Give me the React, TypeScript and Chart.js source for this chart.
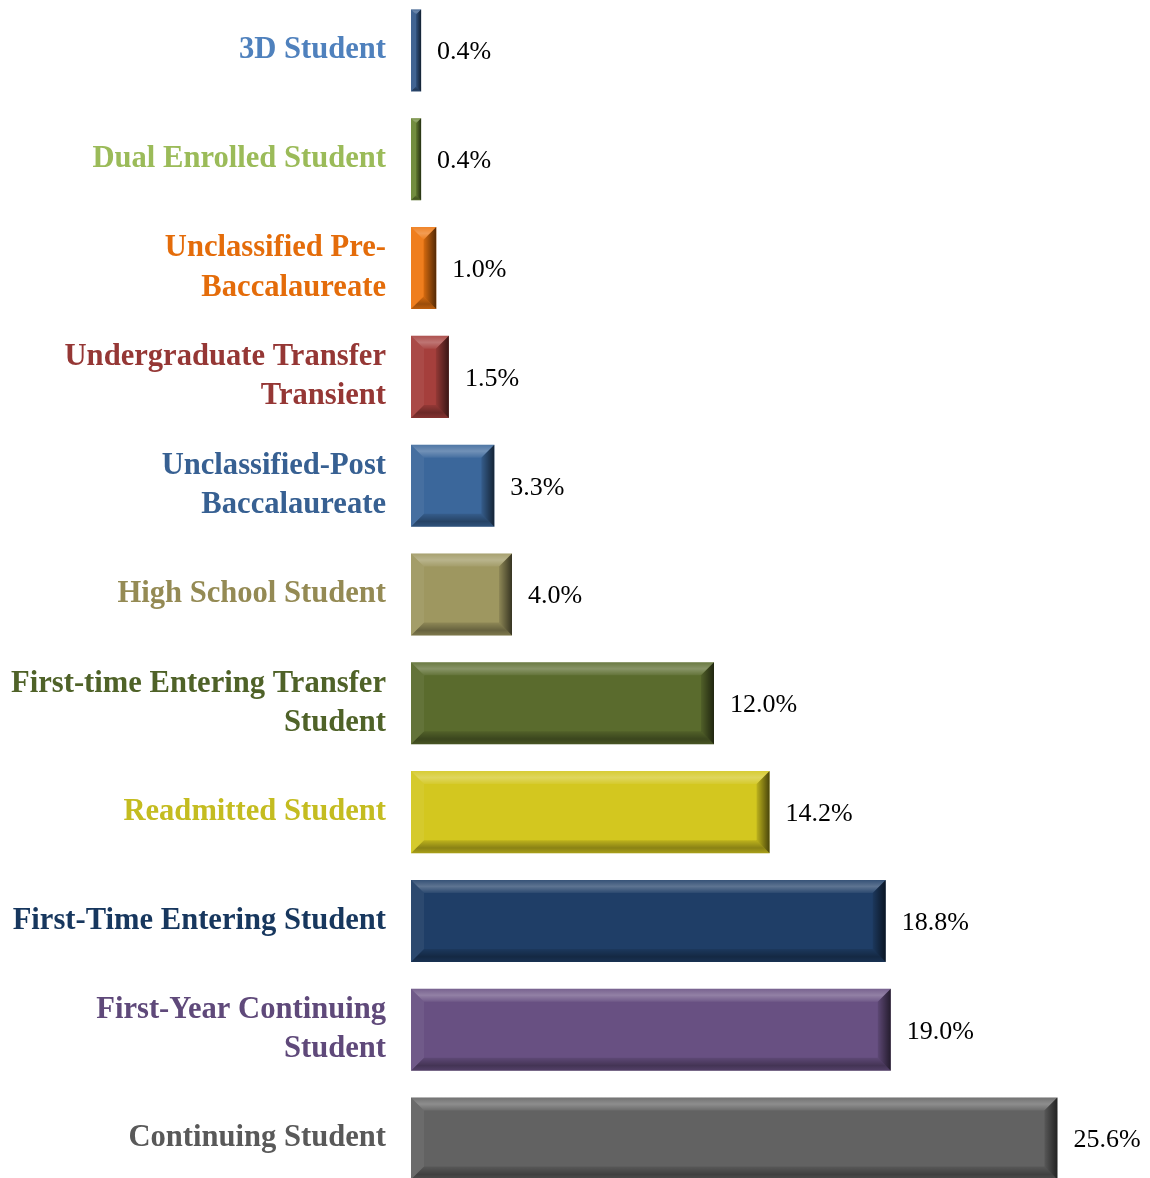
import React, { useEffect, useRef } from "react";
import { Chart, registerables } from "chart.js";

Chart.register(...registerables);

const categories: (string | string[])[] = [
  "3D Student",
  "Dual Enrolled Student",
  ["Unclassified Pre-", "Baccalaureate"],
  ["Undergraduate Transfer", "Transient"],
  ["Unclassified-Post", "Baccalaureate"],
  "High School Student",
  ["First-time Entering Transfer", "Student"],
  "Readmitted Student",
  "First-Time Entering Student",
  ["First-Year Continuing", "Student"],
  "Continuing Student",
];

const shares: number[] = [0.4, 0.4, 1.0, 1.5, 3.3, 4.0, 12.0, 14.2, 18.8, 19.0, 25.6];

const barColors: string[] = [
  "#365B8C",
  "#6A8634",
  "#EE7610",
  "#A53F3C",
  "#3B679B",
  "#9E9760",
  "#5A6B2D",
  "#D3C71F",
  "#1F3E67",
  "#685082",
  "#626262",
];

const labelColors: string[] = [
  "#4F81BD",
  "#9BBB59",
  "#E46C0A",
  "#953735",
  "#376092",
  "#948A54",
  "#4F6228",
  "#C4BC20",
  "#17375E",
  "#5F497A",
  "#595959",
];

const bevelPlugin = {
  id: "bevel",
  afterDatasetsDraw(chart: any) {
    const ctx = chart.ctx as CanvasRenderingContext2D;
    const meta = chart.getDatasetMeta(0);
    meta.data.forEach((bar: any, i: number) => {
      const p = bar.getProps(["x", "y", "base", "height"], true);
      const x0 = Math.min(p.base, p.x);
      const x1 = Math.max(p.base, p.x);
      const y0 = p.y - p.height / 2;
      const y1 = p.y + p.height / 2;
      const b = Math.min(13, (x1 - x0) / 2, (y1 - y0) / 2);
      ctx.save();
      // top
      let g = ctx.createLinearGradient(0, y0, 0, y0 + b);
      g.addColorStop(0, "rgba(255,255,255,0.1)");
      g.addColorStop(0.5, "rgba(255,255,255,0.28)");
      g.addColorStop(1, "rgba(255,255,255,0.06)");
      ctx.fillStyle = g;
      ctx.beginPath();
      ctx.moveTo(x0, y0);
      ctx.lineTo(x1, y0);
      ctx.lineTo(x1 - b, y0 + b);
      ctx.lineTo(x0 + b, y0 + b);
      ctx.closePath();
      ctx.fill();
      // left
      ctx.fillStyle = "rgba(255,255,255,0.06)";
      ctx.beginPath();
      ctx.moveTo(x0, y0);
      ctx.lineTo(x0 + b, y0 + b);
      ctx.lineTo(x0 + b, y1 - b);
      ctx.lineTo(x0, y1);
      ctx.closePath();
      ctx.fill();
      // bottom
      g = ctx.createLinearGradient(0, y1 - b, 0, y1);
      g.addColorStop(0, "rgba(0,0,0,0.1)");
      g.addColorStop(0.6, "rgba(0,0,0,0.35)");
      g.addColorStop(1, "rgba(0,0,0,0.2)");
      ctx.fillStyle = g;
      ctx.beginPath();
      ctx.moveTo(x0, y1);
      ctx.lineTo(x1, y1);
      ctx.lineTo(x1 - b, y1 - b);
      ctx.lineTo(x0 + b, y1 - b);
      ctx.closePath();
      ctx.fill();
      // right
      g = ctx.createLinearGradient(x1 - b, 0, x1, 0);
      g.addColorStop(0, "rgba(0,0,0,0.1)");
      g.addColorStop(1, "rgba(0,0,0,0.65)");
      ctx.fillStyle = g;
      ctx.beginPath();
      ctx.moveTo(x1, y0);
      ctx.lineTo(x1 - b, y0 + b);
      ctx.lineTo(x1 - b, y1 - b);
      ctx.lineTo(x1, y1);
      ctx.closePath();
      ctx.fill();
      ctx.restore();

      // value label
      ctx.save();
      ctx.fillStyle = "#000000";
      ctx.font = "26px 'Liberation Serif', serif";
      ctx.textAlign = "left";
      ctx.textBaseline = "middle";
      ctx.fillText(shares[i].toFixed(1) + "%", x1 + 16, p.y + 2);
      ctx.restore();
    });
  },
};

export default function App() {
  const ref = useRef<HTMLCanvasElement | null>(null);

  useEffect(() => {
    document.body.style.margin = "0";
    if (!ref.current) return;
    const chart = new Chart(ref.current, {
      type: "bar",
      data: {
        labels: categories,
        datasets: [
          {
            data: shares,
            backgroundColor: barColors,
            borderWidth: 0,
            barPercentage: 0.754,
            categoryPercentage: 1,
          },
        ],
      },
      options: {
        indexAxis: "y",
        animation: false,
        responsive: true,
        maintainAspectRatio: false,
        layout: { padding: { left: 0, right: 32, top: 0, bottom: 0 } },
        plugins: {
          legend: { display: false },
          tooltip: { enabled: false },
        },
        scales: {
          x: {
            display: false,
            min: 0,
            max: 28,
          },
          y: {
            grid: { display: false },
            border: { display: false },
            ticks: {
              padding: 17,
              autoSkip: false,
              font: { family: "'Liberation Serif', serif", size: 30.6, weight: "bold", lineHeight: 1.28 },
              color: (c: any) => labelColors[c.index] ?? "#000",
            },
            afterFit: (scale: any) => {
              scale.width = 411;
              scale.paddingTop = 0;
              scale.paddingBottom = 0;
            },
          },
        },
      },
      plugins: [bevelPlugin],
    });
    return () => chart.destroy();
  }, []);

  return (
    <div style={{ position: "relative", width: 1150, height: 1178, overflow: "hidden", background: "#fff" }}>
      <div style={{ position: "absolute", left: 0, top: -4, width: 1150, height: 1197 }}>
        <canvas ref={ref} />
      </div>
    </div>
  );
}
